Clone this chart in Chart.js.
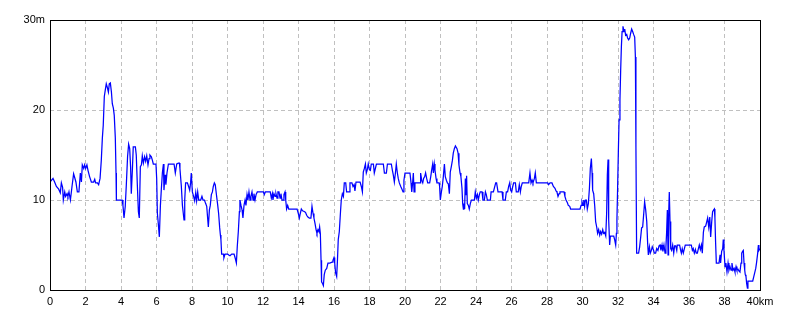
<!DOCTYPE html>
<html>
<head>
<meta charset="utf-8">
<script src="https://cdn.jsdelivr.net/npm/chart.js@4.4.1/dist/chart.umd.min.js"></script>
<style>
  body { margin: 0; background: #fff; }
  canvas { display: block; }
</style>
</head>
<body>
<canvas id="chart" width="800" height="320"></canvas>
<script>
// distance along the route (km) and height (m)
const distance = [
  0, 0.17, 0.26, 0.36, 0.49, 0.58, 0.64, 0.71, 0.75, 0.83,
  0.88, 0.96, 1.01, 1.07, 1.15, 1.24, 1.33, 1.39, 1.46, 1.54,
  1.63, 1.71, 1.77, 1.82, 1.90, 1.95, 2.01, 2.08, 2.14, 2.23,
  2.33, 2.46, 2.52, 2.57, 2.67, 2.74, 2.82, 2.89, 2.95, 3.00,
  3.06, 3.12, 3.17, 3.23, 3.29, 3.34, 3.40, 3.46, 3.51, 3.57,
  3.62, 3.68, 3.72, 3.74, 4.06, 4.11, 4.17, 4.24, 4.30, 4.37,
  4.43, 4.49, 4.54, 4.58, 4.64, 4.69, 4.81, 4.86, 4.92, 4.98,
  5.03, 5.09, 5.15, 5.20, 5.26, 5.33, 5.39, 5.45, 5.52, 5.58,
  5.63, 5.71,
  5.77, 5.82, 5.97, 6.01, 6.05, 6.10, 6.16, 6.22, 6.27, 6.33,
  6.39, 6.42, 6.48, 6.53, 6.59, 6.67, 6.99, 7.06, 7.14, 7.23,
  7.29, 7.32, 7.40, 7.46, 7.51, 7.55, 7.59, 7.64, 7.74, 7.81,
  7.87, 7.92, 7.96, 8.02, 8.09, 8.15, 8.21, 8.26, 8.32, 8.38,
  8.49, 8.56, 8.62, 8.70, 8.77, 8.83, 8.88, 8.92, 8.98, 9.03,
  9.09, 9.15, 9.20, 9.26, 9.31, 9.37, 9.45, 9.50, 9.56, 9.60,
  9.63, 9.67, 9.77, 9.80, 9.86, 10.01, 10.07, 10.14, 10.24, 10.37,
  10.44, 10.50, 10.55, 10.61, 10.67, 10.70, 10.76, 10.82, 10.87, 10.93,
  10.99, 11.04, 11.10, 11.15, 11.21, 11.27, 11.32,
  11.38, 11.44, 11.49, 11.55, 11.61, 11.68, 12.02, 12.07, 12.13, 12.41,
  12.47, 12.53, 12.56, 12.62, 12.68, 12.73, 12.79, 12.84, 12.90, 12.96,
  13.01, 13.07, 13.13, 13.18, 13.24, 13.28, 13.33, 13.39, 13.45, 13.92,
  13.99, 14.05, 14.10, 14.16, 14.23, 14.35, 14.40, 14.46, 14.53, 14.61,
  14.70, 14.76, 14.82, 14.87, 14.93, 14.99, 15.04, 15.10, 15.15, 15.19,
  15.23, 15.27, 15.30, 15.36, 15.40, 15.45, 15.51, 15.59, 15.66, 15.76,
  15.89, 15.94, 16.00, 16.04, 16.09, 16.15, 16.19, 16.24, 16.30, 16.36,
  16.41, 16.47, 16.53, 16.58, 16.66, 16.71, 16.85, 16.90, 17.01, 17.07,
  17.13, 17.18, 17.24, 17.47, 17.54, 17.60, 17.65, 17.71, 17.77, 17.82,
  17.88, 17.93, 17.99, 18.05, 18.10, 18.22, 18.27, 18.33, 18.39, 18.78,
  18.84, 18.95, 19.01, 19.23, 19.29, 19.34, 19.40, 19.46, 19.51, 19.57,
  19.62, 19.68, 19.76, 19.83, 19.89, 19.94, 20.00, 20.28, 20.34, 20.38,
  20.43, 20.47, 20.51, 20.56, 20.85, 20.88, 20.94, 21.00, 21.05, 21.11,
  21.16, 21.22, 21.28, 21.39, 21.45, 21.50, 21.56, 21.60, 21.65, 21.69,
  21.75, 21.80, 21.92, 21.95, 21.99, 22.05, 22.10, 22.16, 22.22, 22.27,
  22.33, 22.39, 22.44, 22.50, 22.55, 22.61, 22.67, 22.72, 22.78, 22.84,
  22.93, 22.99, 23.04, 23.10, 23.15, 23.21, 23.25, 23.29, 23.32, 23.36,
  23.40, 23.44, 23.47, 23.51, 23.57, 23.62, 23.68, 23.74, 23.91, 23.96,
  24.02, 24.08, 24.13, 24.19, 24.24, 24.34, 24.39, 24.47, 24.53, 24.58,
  24.64, 24.81, 24.85, 24.98, 25.03, 25.11, 25.16, 25.24, 25.47, 25.52,
  25.65, 25.71, 25.78, 25.84, 25.90, 25.95, 26.01, 26.07, 26.12, 26.22,
  26.27, 26.38, 26.44, 26.50, 26.55, 26.61, 26.97, 27.04, 27.10, 27.16,
  27.21, 27.29, 27.34, 27.40, 28.04, 28.09, 28.17, 28.28, 28.36, 28.45,
  28.51, 28.56,
  28.62, 28.68, 28.73, 28.96, 29.01, 29.07, 29.15, 29.20, 29.28, 29.33,
  29.86, 29.92, 29.97, 30.03, 30.07, 30.12, 30.16, 30.22, 30.27, 30.33,
  30.39, 30.44, 30.50, 30.54, 30.57, 30.63, 30.69, 30.74, 30.80, 30.85,
  30.91, 30.97, 31.02, 31.08, 31.14, 31.19, 31.25, 31.31, 31.36, 31.40,
  31.44, 31.46, 31.49, 31.53, 31.57, 31.76, 31.81, 31.87, 31.91, 31.94,
  31.98, 32.02, 32.06, 32.11, 32.15, 32.19, 32.23, 32.28, 32.34, 32.38,
  32.43, 32.49, 32.54, 32.60, 32.66, 32.71, 32.77, 32.83, 32.88, 32.94,
  32.98, 33.01, 33.05, 33.16, 33.22, 33.28, 33.33, 33.39, 33.45, 33.50,
  33.56, 33.62, 33.67, 33.71, 33.77, 33.82, 33.88, 33.93, 33.99, 34.05,
  34.12, 34.18, 34.25, 34.31,
  34.37, 34.42, 34.48, 34.53, 34.59, 34.65, 34.70, 34.74, 34.78, 34.82,
  34.85, 34.89, 34.93, 34.97, 35.02, 35.08, 35.14, 35.19, 35.25, 35.31,
  35.34, 35.47, 35.53, 35.57, 35.62, 35.68, 35.74, 35.79, 36.13, 36.19,
  36.24, 36.30, 36.36, 36.41, 36.47, 36.53, 36.58, 36.64, 36.70, 36.75,
  36.81, 36.86, 36.94, 37.00, 37.05, 37.11, 37.17, 37.22, 37.28, 37.33,
  37.39, 37.43, 37.46, 37.50, 37.54, 37.69, 37.75, 37.78, 37.84, 37.90,
  37.93, 37.97, 38.03, 38.08, 38.14, 38.20, 38.25, 38.31, 38.37, 38.42,
  38.48, 38.54, 38.59, 38.65, 38.70, 38.76, 38.82, 38.87, 38.93, 38.97,
  39.02, 39.06, 39.10, 39.14, 39.17, 39.21, 39.25, 39.29, 39.32, 39.59,
  39.64, 39.70, 39.76, 39.81, 39.87, 39.91, 39.94, 40.00
];

const height = [
  12.0, 12.4, 12.0, 11.5, 11.2, 10.8, 11.9, 11.4, 10.0, 10.9,
  10.4, 10.7, 10.4, 10.9, 10.0, 11.5, 12.9, 12.5, 12.0, 10.9,
  10.9, 13.0, 12.0, 13.9, 13.5, 13.9, 13.5, 13.9, 13.3, 12.6,
  12.0, 12.0, 12.3, 11.9, 11.9, 11.7, 12.4, 14.4, 16.9, 18.3,
  21.5, 22.3, 22.9, 22.5, 22.0, 22.9, 23.0, 22.0, 20.7, 20.2,
  19.4, 16.9, 13.0, 10.0, 10.0, 9.4, 8.0, 9.3, 11.7, 14.8,
  16.2, 15.7, 13.7, 10.7, 13.3, 15.9, 15.9, 15.0, 11.7, 8.7,
  8.0, 13.7, 13.9, 14.9, 14.1, 14.8, 14.3, 14.9, 13.9, 14.6,
  15.0, 14.8,
  14.4, 14.0, 14.0, 12.4, 8.5, 7.4, 5.9, 9.4, 11.1, 13.0,
  14.0, 11.1, 12.8, 11.7, 13.0, 14.0, 14.0, 13.0, 14.0, 14.1,
  14.1, 13.5, 11.5, 9.4, 8.5, 7.8, 10.0, 11.9, 11.9, 11.5,
  11.1, 11.9, 13.0, 10.9, 10.4, 9.9, 10.8, 9.9, 10.9, 10.0,
  10.0, 10.4, 10.0, 10.0, 9.6, 9.3, 8.0, 7.0, 8.9, 9.4,
  10.6, 10.9, 11.5, 11.9, 11.7, 10.7, 9.4, 8.5, 6.9, 6.1,
  5.6, 4.0, 4.0, 3.6, 4.0, 4.0, 3.9, 3.8, 4.0, 4.0,
  3.5, 3.0, 4.8, 6.5, 8.7, 10.0, 9.4, 8.9, 8.0, 9.4,
  10.0, 9.4, 10.6, 10.0, 10.9, 10.0, 10.4,
  10.9, 10.0, 10.7, 10.0, 10.6, 10.9, 10.9, 10.6, 10.9, 10.9,
  10.2, 10.7, 10.0, 10.7, 10.4, 10.7, 10.2, 10.9, 10.9, 10.2,
  10.7, 10.0, 10.0, 10.6, 10.9, 10.0, 9.0, 9.4, 9.0, 9.0,
  8.5, 8.0, 8.5, 9.0, 8.8, 8.7, 8.6, 8.3, 8.1, 8.0,
  8.0, 9.3, 8.5, 8.0, 7.4, 6.7, 6.3, 6.7, 6.5, 7.0,
  6.3, 3.3, 0.9, 0.7, 0.5, 1.7, 2.2, 2.4, 3.0, 3.0,
  3.1, 3.3, 3.6, 3.0, 1.9, 1.5, 3.1, 5.6, 6.5, 8.5,
  10.0, 10.7, 10.4, 11.9, 11.9, 10.9, 10.9, 11.9, 11.9, 11.5,
  11.7, 11.0, 12.0, 12.0, 11.5, 10.9, 13.1, 13.5, 14.0, 13.0,
  13.4, 14.0, 13.4, 13.3, 14.0, 14.0, 13.0, 13.5, 14.0, 14.0,
  13.0, 13.0, 14.0, 14.0, 13.3, 12.8, 12.0, 13.0, 14.0, 13.0,
  12.4, 11.9, 11.5, 11.2, 10.9, 12.2, 13.0, 13.0, 11.9, 10.9,
  11.9, 13.0, 10.9, 11.9, 11.9, 13.0, 12.2, 11.9, 12.4, 12.6,
  13.0, 12.4, 11.9, 11.9, 12.6, 13.3, 14.0, 13.0, 14.0, 13.3,
  12.4, 11.9, 11.9, 11.5, 10.0, 10.9, 11.5, 12.6, 14.0, 12.6,
  12.2, 11.9, 11.8, 10.7, 13.1, 13.7, 14.4, 15.2, 15.7, 16.0,
  15.7, 15.2, 13.9, 13.0, 12.6, 11.3, 9.6, 9.0, 9.6, 9.0,
  12.4, 10.6, 12.7, 9.6, 9.4, 9.0, 9.6, 10.0, 10.0, 10.9,
  10.2, 10.6, 10.0, 10.6, 10.9, 10.9, 10.0, 10.0, 10.9, 10.6,
  10.0, 10.0, 10.9, 10.9, 11.3, 11.9, 11.9, 10.9, 10.9, 10.0,
  10.0, 10.9, 10.9, 11.5, 11.9, 11.1, 10.9, 11.5, 11.9, 11.9,
  10.9, 10.9, 11.7, 10.9, 11.5, 11.9, 11.9, 13.0, 11.9, 12.2,
  11.9, 12.4, 13.0, 11.9, 11.9, 11.7, 11.9, 11.9, 11.5, 11.3,
  11.0, 10.9,
  10.4, 10.7, 10.9, 10.9, 10.4, 10.0, 9.7, 9.4, 9.3, 9.0,
  9.0, 9.4, 9.8, 9.4, 10.0, 9.3, 10.0, 10.0, 9.0, 9.6,
  11.3, 13.5, 14.6, 13.0, 11.1, 10.7, 9.3, 7.6, 7.0, 6.3,
  6.7, 6.1, 6.5, 6.2, 6.7, 6.3, 6.4, 6.0, 8.5, 12.8,
  14.5, 9.8, 7.8, 5.0, 6.0, 6.0, 5.6, 5.0, 6.3, 7.8,
  11.5, 15.4, 18.9, 21.1, 24.4, 27.0, 28.7, 29.3, 28.7, 29.0,
  28.3, 28.4, 28.0, 27.8, 28.0, 28.5, 29.0, 28.7, 28.4, 28.1,
  25.9, 15.9, 4.1, 4.1, 4.8, 5.9, 6.9, 7.0, 8.5, 9.8,
  8.9, 7.6, 5.2, 3.9, 4.8, 4.1, 4.4, 4.8, 4.5, 4.1,
  4.1, 4.6, 4.4, 4.9,
  5.0, 4.4, 5.0, 4.3, 5.0, 4.1, 4.8, 6.4, 8.9, 3.9,
  8.1, 10.9, 7.6, 4.6, 4.4, 5.0, 4.1, 4.9, 4.9, 4.4,
  5.0, 5.0, 4.4, 4.1, 4.6, 4.1, 4.6, 5.0, 5.0, 4.4,
  4.6, 4.1, 4.5, 4.1, 4.1, 4.6, 5.0, 4.5, 5.0, 4.1,
  6.4, 7.0, 7.1, 7.6, 8.0, 7.0, 8.1, 5.9, 7.6, 8.7,
  8.9, 9.0, 8.0, 5.2, 3.0, 3.0, 3.9, 3.0, 4.3, 4.6,
  5.6, 4.4, 2.6, 3.0, 2.0, 3.0, 2.2, 2.6, 2.2, 3.0,
  2.2, 2.4, 2.0, 2.6, 2.2, 2.3, 2.1, 2.0, 3.0, 4.1,
  4.3, 4.4, 3.0, 2.2, 1.7, 1.5, 0.7, 0.2, 1.0, 1.0,
  1.4, 1.9, 2.4, 3.1, 4.1, 5.0, 4.4, 4.6
];

const xTicks = { min: 0, max: 40, step: 2, unit: 'km' };
const yTicks = { min: 0, max: 30, step: 10, unit: 'm' };

if (distance.length !== height.length) {
  console.error('length mismatch', distance.length, height.length);
}

const points = distance.map((d, i) => ({ x: d, y: height[i] }));

const tickFont = { family: 'Liberation Sans', size: 11 };

// frame round the plot area
const frame = {
  id: 'frame',
  afterDraw(chart) {
    const { ctx, chartArea: a } = chart;
    ctx.save();
    ctx.strokeStyle = '#000';
    ctx.lineWidth = 1;
    ctx.strokeRect(a.left + 0.5, a.top + 0.5, a.right - a.left, a.bottom - a.top);
    ctx.restore();
  }
};

const ctx = document.querySelector('#chart').getContext('2d');

new Chart(ctx, {
  type: 'line',
  data: {
    datasets: [{
      data: points,
      borderColor: '#0000ff',
      borderWidth: 1.25,
      pointRadius: 0,
      tension: 0,
      fill: false
    }]
  },
  options: {
    responsive: false,
    animation: false,
    layout: { padding: { top: 20, right: 40, left: 0, bottom: 0 } },
    plugins: { legend: { display: false }, tooltip: { enabled: false } },
    scales: {
      x: {
        type: 'linear',
        min: xTicks.min,
        max: xTicks.max,
        afterFit: s => { s.height = 30; },
        grid: { color: '#c0c0c0', drawTicks: false },
        border: { display: false, dash: [4, 3] },
        ticks: {
          stepSize: xTicks.step,
          autoSkip: false,
          maxRotation: 0,
          padding: 5,
          color: '#000',
          font: tickFont,
          callback: v => v === xTicks.max ? v + xTicks.unit : v
        }
      },
      y: {
        min: yTicks.min,
        max: yTicks.max,
        afterFit: s => { s.width = 50; },
        grid: { color: '#c0c0c0', drawTicks: false },
        border: { display: false, dash: [4, 3] },
        ticks: {
          stepSize: yTicks.step,
          padding: 5,
          color: '#000',
          font: tickFont,
          callback: v => v === yTicks.max ? v + yTicks.unit : v
        }
      }
    }
  },
  plugins: [frame]
});
</script>
</body>
</html>
